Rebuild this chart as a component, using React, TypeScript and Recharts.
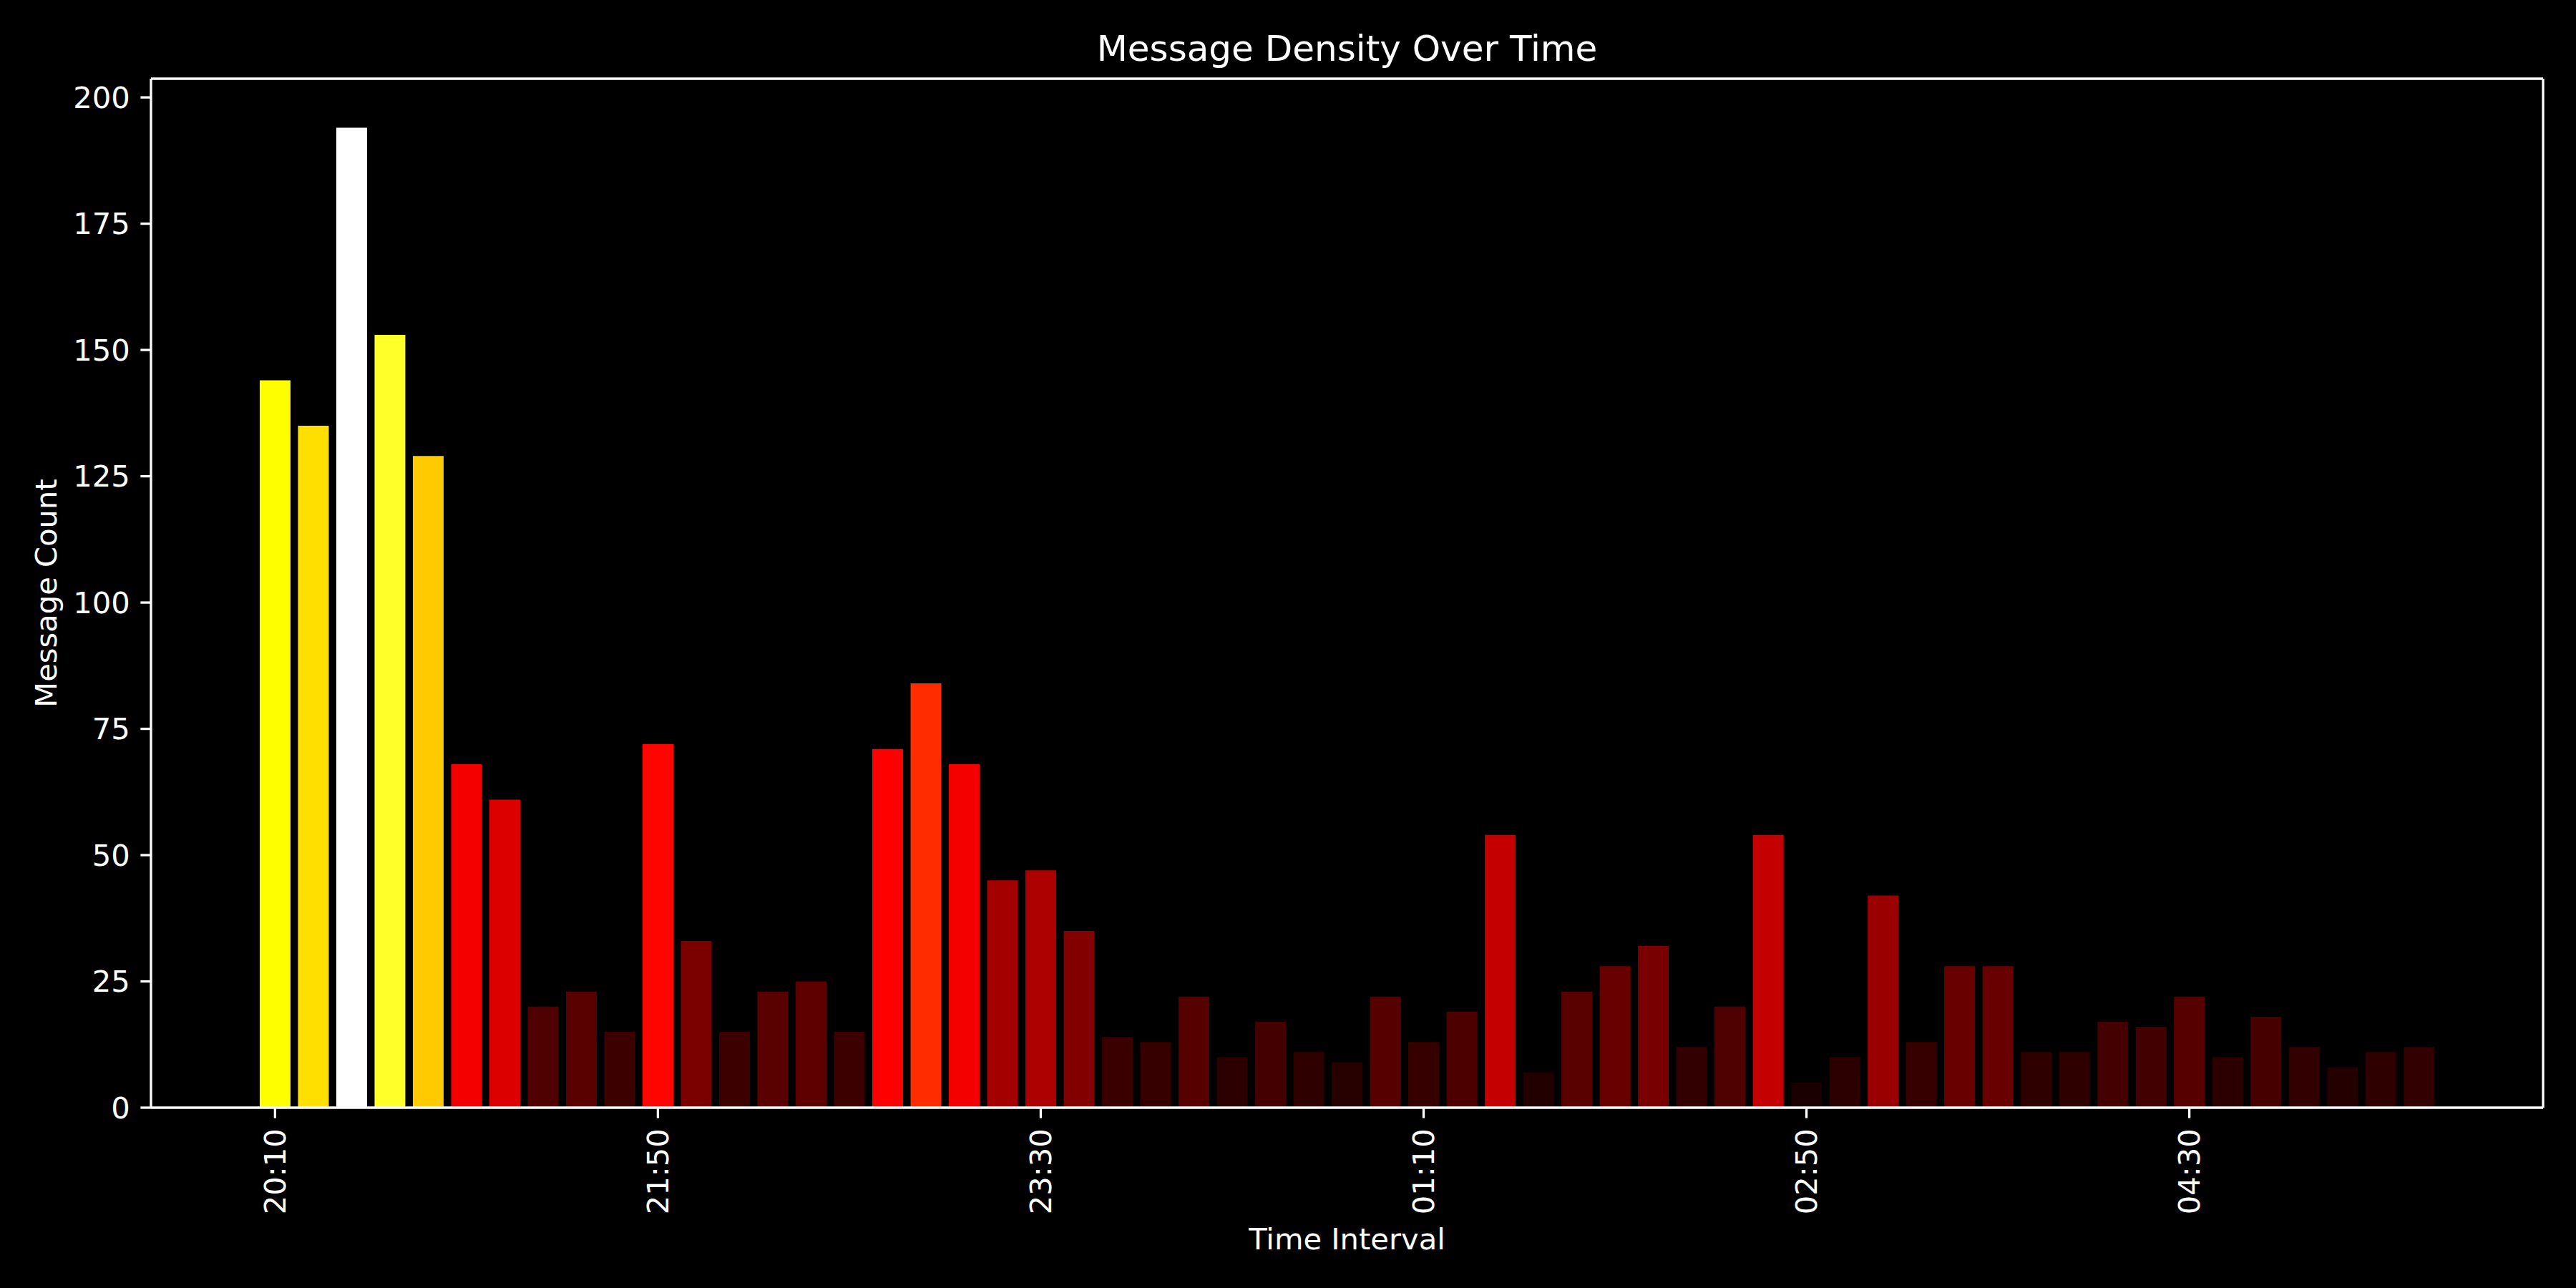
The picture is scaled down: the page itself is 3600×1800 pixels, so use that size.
import { BarChart, Bar, Cell, XAxis, YAxis, CartesianGrid } from "recharts";

// 10-minute buckets, 20:10 through 05:30
const times = [
  "20:10", "20:20", "20:30", "20:40", "20:50", "21:00", "21:10", "21:20", "21:30", "21:40",
  "21:50", "22:00", "22:10", "22:20", "22:30", "22:40", "22:50", "23:00", "23:10", "23:20",
  "23:30", "23:40", "23:50", "00:00", "00:10", "00:20", "00:30", "00:40", "00:50", "01:00",
  "01:10", "01:20", "01:30", "01:40", "01:50", "02:00", "02:10", "02:20", "02:30", "02:40",
  "02:50", "03:00", "03:10", "03:20", "03:30", "03:40", "03:50", "04:00", "04:10", "04:20",
  "04:30", "04:40", "04:50", "05:00", "05:10", "05:20", "05:30",
];

const counts = [
  144, 135, 194, 153, 129, 68, 61, 20, 23, 15,
  72, 33, 15, 23, 25, 15, 71, 84, 68, 45,
  47, 35, 14, 13, 22, 10, 17, 11, 9, 22,
  13, 19, 54, 7, 23, 28, 32, 12, 20, 54,
  5, 10, 42, 13, 28, 28, 11, 11, 17, 16,
  22, 10, 18, 12, 8, 11, 12,
];

const yTicks = [0, 25, 50, 75, 100, 125, 150, 175, 200];

const FONT = "'DejaVu Sans', sans-serif";
const TICK_FS = 41.67;
const SPINE = 3.3;

// matplotlib "hot" colormap, 256 steps
function hot(x: number): string {
  const i = Math.min(255, Math.max(0, Math.floor(x * 256)));
  const t = i / 255;
  const r = t < 0.365079 ? 0.0416 + (t / 0.365079) * (1 - 0.0416) : 1;
  const g = t < 0.365079 ? 0 : t < 0.746032 ? (t - 0.365079) / (0.746032 - 0.365079) : 1;
  const b = t < 0.746032 ? 0 : (t - 0.746032) / (1 - 0.746032);
  const c = (v: number) => Math.round(Math.min(1, Math.max(0, v)) * 255);
  return `rgb(${c(r)},${c(g)},${c(b)})`;
}

const maxCount = Math.max(...counts);
const data = times.map((time, i) => ({ time, count: counts[i] }));

function XTick(props: any) {
  const { x, y, payload } = props;
  return (
    <text
      x={x}
      y={y}
      transform={`rotate(-90, ${x}, ${y})`}
      textAnchor="end"
      dominantBaseline="central"
      fill="#fff"
      fontSize={TICK_FS}
      fontFamily={FONT}
    >
      {payload.value}
    </text>
  );
}

export default function App() {
  return (
    <div style={{ position: "absolute", left: 0, top: 0, width: 3600, height: 1800, background: "#000" }}>
      <BarChart
        width={3600}
        height={1800}
        data={data}
        margin={{ top: 110, right: 46, bottom: 0, left: 0 }}
        barCategoryGap="10%"
      >
        {/* top and right spines of the frame */}
        <CartesianGrid
          stroke="#fff"
          strokeWidth={SPINE}
          horizontalCoordinatesGenerator={({ offset }: any) => [offset.top]}
          verticalCoordinatesGenerator={({ offset }: any) => [offset.left + offset.width]}
        />
        <XAxis
          dataKey="time"
          height={252}
          interval={9}
          padding={{ left: 146.6, right: 146.6 }}
          axisLine={{ stroke: "#fff", strokeWidth: SPINE }}
          tickLine={{ stroke: "#fff", strokeWidth: SPINE }}
          tickSize={14.6}
          tickMargin={14.6}
          tick={<XTick />}
        />
        <YAxis
          width={211}
          type="number"
          domain={[0, 203.7]}
          ticks={yTicks}
          allowDataOverflow
          axisLine={{ stroke: "#fff", strokeWidth: SPINE }}
          tickLine={{ stroke: "#fff", strokeWidth: SPINE }}
          tickSize={14.6}
          tickMargin={14.6}
          tick={{ fill: "#fff", fontSize: TICK_FS, fontFamily: FONT }}
        />
        <Bar dataKey="count" isAnimationActive={false}>
          {counts.map((v, i) => (
            <Cell key={i} fill={hot(v / maxCount)} />
          ))}
        </Bar>
        <text x={1882.5} y={85} textAnchor="middle" fill="#fff" fontSize={50} fontFamily={FONT}>
          Message Density Over Time
        </text>
        <text x={1882.5} y={1746} textAnchor="middle" fill="#fff" fontSize={TICK_FS} fontFamily={FONT}>
          Time Interval
        </text>
        <text
          x={64}
          y={829}
          transform="rotate(-90, 64, 829)"
          textAnchor="middle"
          dominantBaseline="central"
          fill="#fff"
          fontSize={TICK_FS}
          fontFamily={FONT}
        >
          Message Count
        </text>
      </BarChart>
    </div>
  );
}
